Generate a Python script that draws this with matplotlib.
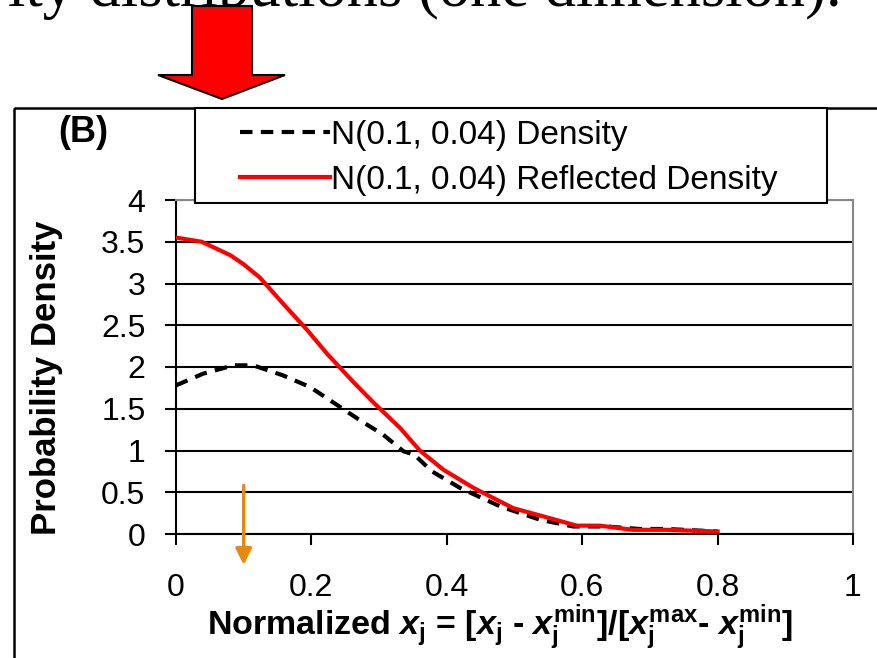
import matplotlib
matplotlib.use("Agg")
import matplotlib.pyplot as plt
from matplotlib.patches import Polygon, Rectangle

plt.rcParams['font.family'] = ['Liberation Sans', 'DejaVu Sans']
plt.rcParams['mathtext.fontset'] = 'custom'
plt.rcParams['mathtext.rm'] = 'Liberation Sans:bold'
plt.rcParams['mathtext.it'] = 'Liberation Sans:bold:italic'
plt.rcParams['mathtext.bf'] = 'Liberation Sans:bold'

# N(0.1, 0.04) density, sampled on [0, 0.8]
x_dens = [0, 0.04, 0.085, 0.114, 0.158, 0.198, 0.237, 0.274, 0.306, 0.336,
          0.352, 0.378, 0.42, 0.479, 0.538, 0.587, 0.636, 0.685, 0.725, 0.80]
y_dens = [1.78, 1.92, 2.02, 2.02, 1.90, 1.76, 1.55, 1.35, 1.19, 0.99,
          0.95, 0.75, 0.55, 0.33, 0.17, 0.09, 0.09, 0.06, 0.06, 0.03]

# same density reflected about 0
x_refl = [0, 0.038, 0.08, 0.10, 0.124, 0.158, 0.193, 0.223, 0.262, 0.291, 0.331,
          0.36, 0.395, 0.44, 0.498, 0.552, 0.592, 0.626, 0.675, 0.725, 0.80]
y_refl = [3.55, 3.50, 3.34, 3.23, 3.07, 2.76, 2.45, 2.16, 1.82, 1.58, 1.27,
          1.00, 0.77, 0.55, 0.31, 0.19, 0.10, 0.10, 0.05, 0.05, 0.03]

mean_mark = 0.1
x_ticks = [0, 0.2, 0.4, 0.6, 0.8, 1]
x_ticklabels = ['0', '0.2', '0.4', '0.6', '0.8', '1']
y_ticks = [0, 0.5, 1, 1.5, 2, 2.5, 3, 3.5, 4]
y_ticklabels = ['0', '0.5', '1', '1.5', '2', '2.5', '3', '3.5', '4']

W, H = 878, 658
fig = plt.figure(figsize=(W / 100, H / 100), dpi=100)

# overlay in pixel units for the slide decorations
deco = fig.add_axes([0, 0, 1, 1], zorder=0)
deco.set_xlim(0, W)
deco.set_ylim(H, 0)
deco.axis('off')
deco.text(842, 6, 'ity distributions (one dimension).', ha='right', va='baseline',
          fontsize=45, family='Liberation Serif')
deco.add_patch(Polygon([(192, 6), (252, 6), (252, 75), (285, 75), (222, 99),
                        (158, 75), (192, 75)], closed=True, facecolor='red',
                       edgecolor='black', lw=1.5))
deco.add_patch(Rectangle((14, 108), 900, 600, fill=False, edgecolor='black', lw=1.8))
deco.text(83, 133, '(B)', ha='center', va='center', fontsize=26, fontweight='bold')

ax = fig.add_axes([176 / W, 1 - 534 / H, 677 / W, 334 / H], zorder=1)
ax.plot(x_dens, y_dens, color='black', lw=3, dashes=(3, 2), dash_capstyle='butt',
        label='N(0.1, 0.04) Density', zorder=3)
ax.plot(x_refl, y_refl, color='red', lw=3, label='N(0.1, 0.04) Reflected Density', zorder=4)

ax.set_xlim(0, 1)
ax.set_ylim(0, 4)
ax.set_xticks(x_ticks)
ax.set_xticklabels(x_ticklabels)
ax.set_yticks(y_ticks)
ax.set_yticklabels(y_ticklabels)
ax.tick_params(axis='both', direction='out', length=8, width=1.5, labelsize=23, color='black')
ax.tick_params(axis='x', pad=20)
ax.tick_params(axis='y', pad=14)
ax.grid(axis='y', color='black', lw=1.5)
ax.set_axisbelow(True)
for side in ['left', 'bottom']:
    ax.spines[side].set_color('black')
    ax.spines[side].set_linewidth(1.5)
for side in ['top', 'right']:
    ax.spines[side].set_color('#888888')
    ax.spines[side].set_linewidth(1.5)

ax.set_ylabel('Probability Density', fontsize=25, fontweight='bold')
ax.yaxis.label.set_va('center')
ax.yaxis.set_label_coords((47 - 176) / 677, (534 - 378) / 334)
ax.set_xlabel(r'Normalized $x_\mathrm{j}$ = [$x_\mathrm{j}$ - $x_\mathrm{j}^\mathrm{min}$]/'
              r'[$x_\mathrm{j}^\mathrm{max}$- $x_\mathrm{j}^\mathrm{min}$]',
              fontsize=24.5, fontweight='bold')
ax.xaxis.label.set_va('center')
ax.xaxis.set_label_coords((500 - 176) / 677, (534 - 627) / 334)

# marker for the mean
ax.annotate('', xy=(mean_mark, -0.37), xytext=(mean_mark, 0.58),
            arrowprops=dict(arrowstyle='-|>', color='#E8890F', lw=2.5, mutation_scale=24,
                            shrinkA=0, shrinkB=0),
            annotation_clip=False, zorder=5)

# legend frame sits above the plot area, overlapping its top edge
fig.add_artist(Rectangle((195 / W, 1 - 203 / H), 632 / W, 95 / H, transform=fig.transFigure,
                         facecolor='white', edgecolor='black', lw=1.5, zorder=5))
leg = fig.legend(*ax.get_legend_handles_labels(), loc='upper left',
                 bbox_to_anchor=(233 / W, 1 - 113 / H), borderaxespad=0, frameon=False,
                 fontsize=24, handlelength=2.7, handletextpad=0.05, labelspacing=0.42,
                 borderpad=0.2)
leg.set_zorder(6)

fig.savefig('out.png', dpi=100)
